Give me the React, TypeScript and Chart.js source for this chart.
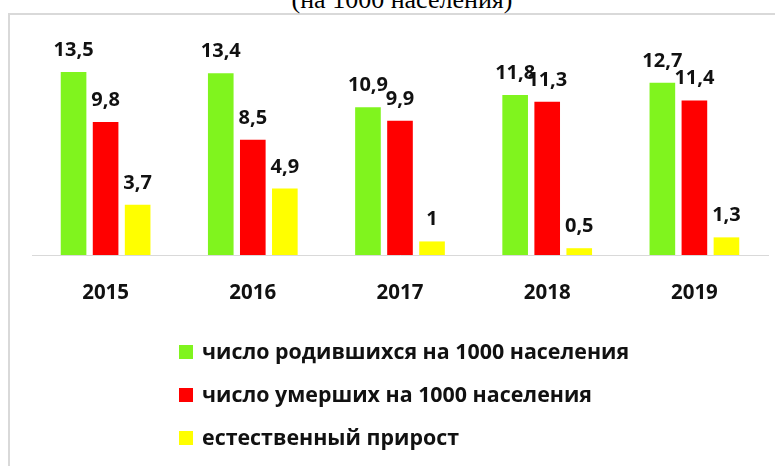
import React, { useEffect, useRef } from "react";
import { Chart, registerables } from "chart.js";

Chart.register(...registerables);

const categories = ["2015", "2016", "2017", "2018", "2019"];
const births = [13.5, 13.4, 10.9, 11.8, 12.7];
const deaths = [9.8, 8.5, 9.9, 11.3, 11.4];
const growth = [3.7, 4.9, 1, 0.5, 1.3];
const seriesLabels = [
  "число родившихся на 1000 населения",
  "число умерших на 1000 населения",
  "естественный прирост",
];
const seriesColors = ["#80F41E", "#FF0000", "#FFFF00"];
const titleText = "(на 1000 населения)";

const FONT = "'Open Sans', 'Noto Sans', sans-serif";

const fmt = (v: number) => String(v).replace(".", ",");

const valueLabels = {
  id: "valueLabels",
  afterDatasetsDraw(chart: any) {
    const ctx = chart.ctx;
    ctx.save();
    ctx.font = `bold 20px ${FONT}`;
    ctx.fillStyle = "#111111";
    ctx.textAlign = "center";
    ctx.textBaseline = "alphabetic";
    chart.data.datasets.forEach((ds: any, di: number) => {
      const meta = chart.getDatasetMeta(di);
      meta.data.forEach((el: any, i: number) => {
        ctx.fillText(fmt(ds.data[i]), el.x, el.y - 16);
      });
    });
    ctx.restore();
  },
};

const sideLegend = {
  id: "sideLegend",
  afterDraw(chart: any) {
    const ctx = chart.ctx;
    ctx.save();
    ctx.font = `bold 21.4px ${FONT}`;
    ctx.textBaseline = "middle";
    ctx.textAlign = "left";
    const rows = [352, 395, 438];
    chart.data.datasets.forEach((ds: any, i: number) => {
      const y = rows[i];
      ctx.fillStyle = ds.backgroundColor;
      ctx.fillRect(179, y - 7, 14, 14);
      ctx.fillStyle = "#111111";
      ctx.fillText(ds.label, 202, y + 1);
    });
    ctx.restore();
  },
};

export default function App() {
  const ref = useRef<HTMLCanvasElement>(null);
  useEffect(() => {
    document.body.style.margin = "0";
    const chart = new Chart(ref.current!, {
      type: "bar",
      data: {
        labels: categories,
        datasets: [births, deaths, growth].map((d, i) => ({
          label: seriesLabels[i],
          data: d,
          backgroundColor: seriesColors[i],
          categoryPercentage: 0.653,
          barPercentage: 0.8,
        })),
      },
      options: {
        responsive: false,
        animation: false,
        devicePixelRatio: 1,
        layout: { padding: { top: 38, left: 32, right: 7, bottom: 0 } },
        plugins: {
          legend: { display: false },
          tooltip: { enabled: false },
          title: { display: false },
        },
        scales: {
          x: {
            grid: { display: false, drawTicks: false },
            border: { display: true, color: "#d9d9d9", width: 1 },
            ticks: {
              padding: 26,
              color: "#111111",
              font: { family: FONT, size: 20.5, weight: "bold" },
            },
            afterFit: (s: any) => {
              s.height = 211;
            },
          },
          y: {
            display: false,
            min: 0,
            max: 16,
          },
        },
      },
      plugins: [valueLabels, sideLegend],
    });
    return () => chart.destroy();
  }, []);

  return (
    <div
      style={{
        position: "relative",
        width: 775,
        height: 466,
        overflow: "hidden",
        background: "#ffffff",
      }}
    >
      <div
        style={{
          position: "absolute",
          left: 8,
          top: 13,
          width: 820,
          height: 520,
          border: "2px solid #d9d9d9",
        }}
      />
      <div
        style={{
          position: "absolute",
          left: 27,
          top: -13,
          width: 750,
          textAlign: "center",
          fontFamily: "'Liberation Serif', 'Times New Roman', serif",
          fontSize: 26,
          lineHeight: "26px",
          color: "#000",
          whiteSpace: "nowrap",
        }}
      >
        {titleText}
      </div>
      <canvas
        ref={ref}
        width={775}
        height={466}
        style={{ position: "absolute", left: 0, top: 0 }}
      />
    </div>
  );
}
